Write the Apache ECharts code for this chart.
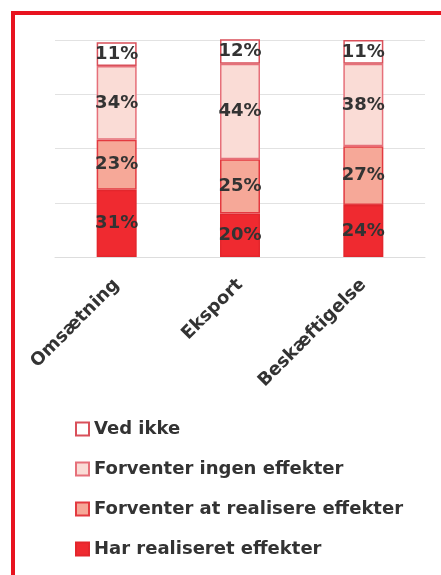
<!DOCTYPE html>
<html>
<head>
<meta charset="utf-8">
<script src="https://cdn.jsdelivr.net/npm/echarts@6/dist/echarts.min.js"></script>
<style>
  html, body { margin: 0; padding: 0; background: #fff; }
  #chart { width: 441px; height: 575px; }
</style>
</head>
<body>
<div id="chart"></div>
<script>
// categories and values (percent), bottom segment first
const categories = ['Omsætning', 'Eksport', 'Beskæftigelse']
const harRealiseret = [31, 20, 24]
const forventerAt = [23, 25, 27]
const forventerIngen = [34, 44, 38]
const vedIkke = [11, 12, 11]

const seriesNames = [
  'Har realiseret effekter',
  'Forventer at realisere effekter',
  'Forventer ingen effekter',
  'Ved ikke'
]
const seriesData = [harRealiseret, forventerAt, forventerIngen, vedIkke]
const fills = ['#ef2a30', '#f6a898', '#fadcd6', '#ffffff']
const borders = ['#e3262c', '#e33a40', '#e6707a', '#d9505a']

const font = 'DejaVu Sans'

const chart = echarts.init(document.getElementById('chart'))

chart.setOption({
  animation: false,
  graphic: [{
    type: 'rect',
    shape: { x: 13, y: 13, width: 500, height: 600 },
    style: { fill: 'none', stroke: '#e8131f', lineWidth: 4 }
  }],
  grid: { left: 55, right: 16, top: 40, bottom: 318 },
  legend: {
    orient: 'vertical',
    left: 70,
    top: 415,
    icon: 'rect',
    itemWidth: 13,
    itemHeight: 13,
    itemGap: 22,
    data: seriesNames.slice().reverse(),
    textStyle: { fontFamily: font, fontSize: 18, fontWeight: 'bold', color: '#333' }
  },
  xAxis: {
    type: 'category',
    data: categories,
    axisLine: { lineStyle: { color: '#ddd' } },
    axisTick: { show: false },
    axisLabel: {
      rotate: 45,
      margin: 25,
      fontFamily: font,
      fontSize: 18,
      fontWeight: 'bold',
      color: '#333'
    }
  },
  yAxis: {
    type: 'value',
    min: 0,
    max: 100,
    interval: 25,
    axisLabel: { show: false },
    axisLine: { show: false },
    axisTick: { show: false },
    splitLine: { lineStyle: { color: '#e2e2e2' } }
  },
  series: seriesNames.map((name, i) => ({
    name,
    type: 'bar',
    stack: 'total',
    barWidth: 40,
    data: seriesData[i],
    itemStyle: {
      color: fills[i],
      borderColor: borders[i],
      borderWidth: 1.5
    },
    label: {
      show: true,
      position: 'inside',
      formatter: '{c}%',
      fontFamily: font,
      fontSize: 18,
      fontWeight: 'bold',
      color: '#333'
    }
  }))
})
</script>
</body>
</html>
